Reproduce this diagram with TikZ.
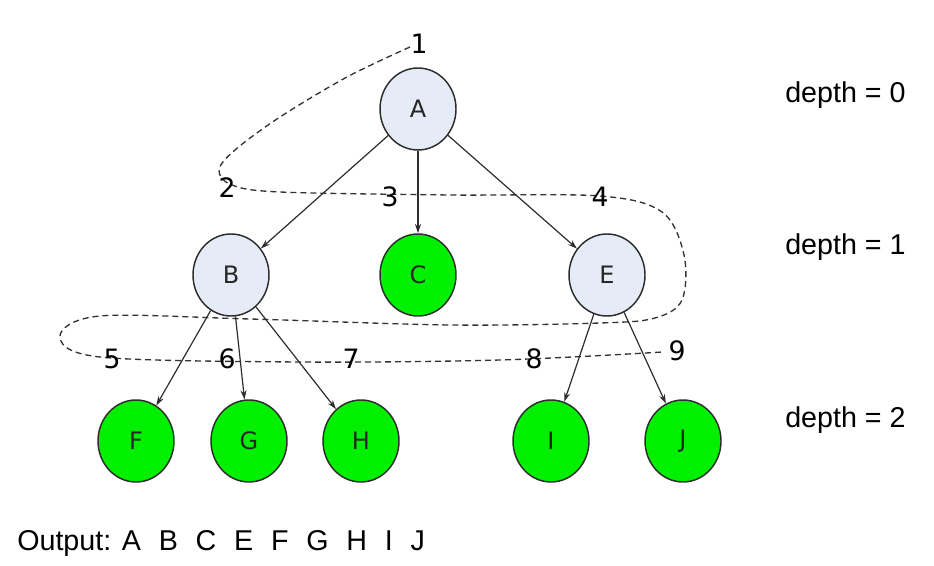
\documentclass[tikz,border=0pt]{standalone}
\usepackage{fontspec}
\setmainfont{Liberation Sans}
\newfontfamily\numfont{DejaVu Sans}
\usetikzlibrary{arrows.meta,shapes.geometric}
\definecolor{nodeblue}{RGB}{230,236,247}
\definecolor{nodegreen}{RGB}{0,240,0}
\definecolor{edgegray}{RGB}{45,45,45}
\begin{document}
\begin{tikzpicture}[x=0.75pt,y=-0.75pt,
  treenode/.style={ellipse,draw=edgegray,line width=1.1pt,minimum width=57pt,minimum height=61.5pt,inner sep=0pt,font=\numfont\fontsize{18}{18}\selectfont,text=black!85},
  innernode/.style={treenode,fill=nodeblue},
  leafnode/.style={treenode,fill=nodegreen},
  treeedge/.style={draw=edgegray,line width=0.9pt,-{Stealth[length=7pt,width=4.5pt]}},
  ordlabel/.style={font=\numfont\fontsize{20}{20}\selectfont,inner sep=0pt},
  depthlabel/.style={font=\fontsize{21.5}{21}\selectfont,inner sep=0pt,anchor=base west},
  traversal/.style={draw=black!80,line width=1pt,dash pattern=on 4.5pt off 3pt}
]
\useasboundingbox (0,0) rectangle (934,566);

% traversal order (dashed)
\draw[traversal] plot[smooth,tension=0.55] coordinates {(410,47) (347,77) (280,117) (235,150) (219,170) (232,185) (280,192) (450,195) (600,196) (662,212) (684,255) (682,300) (655,318) (600,323) (450,325) (250,319) (100,316) (60,336) (100,357) (300,362) (500,360) (663,352)};

% nodes
\node[innernode] (A) at (418,109) {A};
\node[innernode] (B) at (231,275) {B};
\node[leafnode]  (C) at (418,275) {C};
\node[innernode] (E) at (607,275) {E};
\node[leafnode]  (F) at (136,441) {F};
\node[leafnode]  (G) at (249,441) {G};
\node[leafnode]  (H) at (361,441) {H};
\node[leafnode]  (I) at (551,441) {I};
\node[leafnode]  (J) at (683,441) {J};

% edges
\draw[treeedge] (A) -- (B);
\draw[treeedge] (A) -- (C);
\draw[treeedge] (A) -- (E);
\draw[treeedge] (B) -- (F);
\draw[treeedge] (B) -- (G);
\draw[treeedge] (B) -- (H);
\draw[treeedge] (E) -- (I);
\draw[treeedge] (E) -- (J);

% order numbers
\node[ordlabel] (n1) at (419,44) {1};
\node[ordlabel] (n2) at (227,188) {2};
\node[ordlabel] (n3) at (390,197) {3};
\node[ordlabel] (n4) at (600,197) {4};
\node[ordlabel] (n5) at (112,359) {5};
\node[ordlabel] (n6) at (227,359) {6};
\node[ordlabel] (n7) at (351,359) {7};
\node[ordlabel] (n8) at (534,359) {8};
\node[ordlabel] (n9) at (677,351) {9};

% depth labels
\node[depthlabel] (d0) at (785,103) {depth = 0};
\node[depthlabel] (d1) at (785,255) {depth = 1};
\node[depthlabel] (d2) at (785,427) {depth = 2};

% output
\node[depthlabel] (out) at (17,550) {Output: A\hspace{0.62em}B\hspace{0.62em}C\hspace{0.62em}E\hspace{0.62em}F\hspace{0.62em}G\hspace{0.62em}H\hspace{0.62em}I\hspace{0.62em}J};
\end{tikzpicture}
\end{document}
